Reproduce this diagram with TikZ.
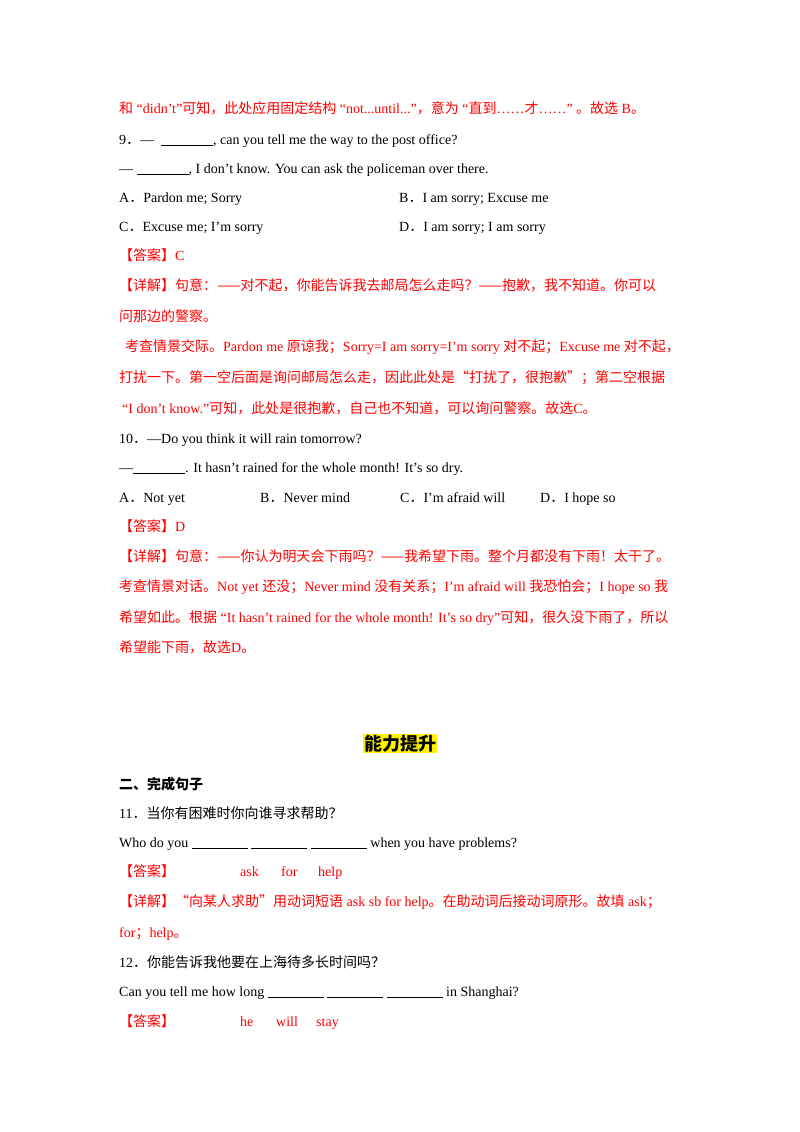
\documentclass[tikz,border=0pt]{standalone}
\usepackage{fontspec}
\setmainfont{Liberation Serif}[Scale=1.0]
\newfontfamily\cjk{Noto Sans CJK SC}
\newcommand{\Z}[1]{{\cjk #1}}
\newcommand{\bl}[1]{\rule[-1.5pt]{#1pt}{0.6pt}}
\definecolor{ansred}{RGB}{255,0,0}
\begin{document}
\begin{tikzpicture}[x=1pt,y=-1pt,
  ln/.style={anchor=base west,inner sep=0pt,font=\fontsize{14}{16}\selectfont},
  rd/.style={ln,text=ansred}]
\useasboundingbox[fill=white] (0,0) rectangle (800,1132);
\node[rd] (l1) at (119,113) {\Z{和} “didn’t”\Z{可知，此处应用固定结构} “not...until...”\Z{，意为} “\Z{直到}……\Z{才}……” \Z{。故选} B\Z{。}};
\node[ln] (q9) at (119,144) {9\Z{．}— \ \bl{52}, can you tell me the way to the post office?};
\node[ln] (q9b) at (119,173) {— \bl{52}, I don’t know. You can ask the policeman over there.};
\node[ln] (q9A) at (119,202) {A\Z{．}Pardon me; Sorry};
\node[ln] (q9B) at (399,202) {B\Z{．}I am sorry; Excuse me};
\node[ln] (q9C) at (119,231) {C\Z{．}Excuse me; I’m sorry};
\node[ln] (q9D) at (399,231) {D\Z{．}I am sorry; I am sorry};
\node[rd] (a9) at (119,260) {\Z{【答案】}C};
\node[rd] (d9a) at (119,290) {\Z{【详解】句意：——对不起，你能告诉我去邮局怎么走吗？——抱歉，我不知道。你可以}};
\node[rd] (d9b) at (119,321) {\Z{问那边的警察。}};
\node[rd] (d9c) at (125,351) {\Z{考查情景交际。}Pardon me \Z{原谅我；}Sorry=I am sorry=I’m sorry \Z{对不起；}Excuse me \Z{对不起，}};
\node[rd] (d9d) at (119,382) {\Z{打扰一下。第一空后面是询问邮局怎么走，因此此处是“打扰了，很抱歉”；第二空根据}};
\node[rd] (d9e) at (122,413) {“I don’t know.”\Z{可知，此处是很抱歉，自己也不知道，可以询问警察。故选}C\Z{。}};
\node[ln] (q10) at (119,443) {10\Z{．}—Do you think it will rain tomorrow?};
\node[ln] (q10b) at (119,472) {—\bl{52}. It hasn't rained for the whole month! It's so dry.};
\node[ln] (q10A) at (119,502) {A\Z{．}Not yet};
\node[ln] (q10B) at (260,502) {B\Z{．}Never mind};
\node[ln] (q10C) at (400,502) {C\Z{．}I'm afraid will};
\node[ln] (q10D) at (540,502) {D\Z{．}I hope so};
\node[rd] (a10) at (119,531) {\Z{【答案】}D};
\node[rd] (d10a) at (119,561) {\Z{【详解】句意：——你认为明天会下雨吗？——我希望下雨。整个月都没有下雨！太干了。}};
\node[rd] (d10b) at (119,591) {\Z{考查情景对话。}Not yet \Z{还没；}Never mind \Z{没有关系；}I'm afraid will \Z{我恐怕会；}I hope so \Z{我}};
\node[rd] (d10c) at (119,622) {\Z{希望如此。根据} “It hasn't rained for the whole month! It's so dry”\Z{可知，很久没下雨了，所以}};
\node[rd] (d10d) at (119,652) {\Z{希望能下雨，故选}D\Z{。}};
\node[anchor=base,inner sep=1pt,fill=yellow,font=\fontsize{18}{20}\selectfont\cjk\bfseries] (h) at (400,750) {能力提升};
\node[ln,font=\fontsize{14}{16}\selectfont\cjk\bfseries] (s2) at (119,789) {二、完成句子};
\node[ln] (q11) at (119,818) {11\Z{．当你有困难时你向谁寻求帮助？}};
\node[ln] (q11b) at (119,847) {Who do you \bl{56} \bl{56} \bl{56} when you have problems?};
\node[rd] (a11) at (119,876) {\Z{【答案】}};
\node[rd] (a11a) at (240,876) {ask};
\node[rd] (a11b) at (281,876) {for};
\node[rd] (a11c) at (318,876) {help};
\node[rd] (d11a) at (119,906) {\Z{【详解】“向某人求助”用动词短语} ask sb for help\Z{。在助动词后接动词原形。故填} ask\Z{；}};
\node[rd] (d11b) at (119,937) {for\Z{；}help\Z{。}};
\node[ln] (q12) at (119,967) {12\Z{．你能告诉我他要在上海待多长时间吗？}};
\node[ln] (q12b) at (119,996) {Can you tell me how long \bl{56} \bl{56} \bl{56} in Shanghai?};
\node[rd] (a12) at (119,1026) {\Z{【答案】}};
\node[rd] (a12a) at (240,1026) {he};
\node[rd] (a12b) at (276,1026) {will};
\node[rd] (a12c) at (316,1026) {stay};
\end{tikzpicture}
\end{document}
